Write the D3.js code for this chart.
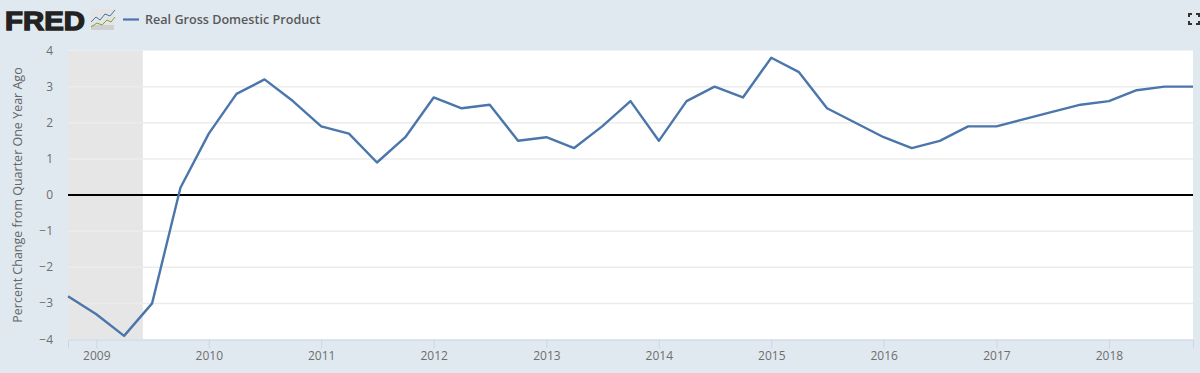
<!DOCTYPE html>
<html><head><meta charset="utf-8">
<script src="https://cdnjs.cloudflare.com/ajax/libs/d3/7.8.5/d3.min.js"></script>
<style>html,body{margin:0;padding:0;background:#e1e9f0}svg{display:block}text{font-family:"Open Sans",sans-serif}</style>
</head><body><svg id="c" width="1200" height="373"></svg>
<script>
const seriesName = "Real Gross Domestic Product";
const yTitle = "Percent Change from Quarter One Year Ago";
const startYear = 2008, startQuarter = 3;
const values = [-2.8,-3.3,-3.9,-3.0,0.2,1.7,2.8,3.2,2.6,1.9,1.7,0.9,1.6,2.7,2.4,2.5,1.5,1.6,1.3,1.9,2.6,1.5,2.6,3.0,2.7,3.8,3.4,2.4,2.0,1.6,1.3,1.5,1.9,1.9,2.1,2.3,2.5,2.6,2.9,3.0,3.0];
const yTicks = [-4,-3,-2,-1,0,1,2,3,4];
const xTickYears = [2009,2010,2011,2012,2013,2014,2015,2016,2017,2018];
const recession = [new Date(2008,9,1), new Date(2009,5,1)];
const iconBlue = [[0,13],[5,8],[9,11],[14,5],[19,7],[24,1]];
const iconGreen = [[0,18],[6,14],[11,16],[16,11],[20,13],[24,8]];

const dates = values.map((_,i)=>new Date(startYear,startQuarter*3+i*3,1));
const svg = d3.select("#c");
const x = d3.scaleTime().domain([dates[0],dates[dates.length-1]]).range([68,1193]);
const y = d3.scaleLinear().domain([-4,4]).range([339.5,50.5]);

svg.append("rect").attr("x",68).attr("y",50.5).attr("width",1125).attr("height",289).attr("fill","#fff");
svg.append("rect").attr("x",x(recession[0])).attr("y",50.5).attr("width",x(recession[1])-x(recession[0])).attr("height",289).attr("fill","#e6e6e6");

svg.append("g").selectAll("line").data(yTicks.filter(d=>d!==0&&d!==4&&d!==-4)).join("line")
 .attr("x1",68).attr("x2",1193).attr("y1",d=>y(d)).attr("y2",d=>y(d)).attr("stroke","#ececec").attr("stroke-width",1.5);

const yAxis = svg.append("g").attr("transform","translate(68,0)")
 .call(d3.axisLeft(y).tickValues(yTicks).tickSize(0).tickPadding(15).tickFormat(d3.format("d")));
yAxis.select(".domain").remove();
yAxis.selectAll("text").attr("font-size",12).attr("fill","#6e6e6e").style("font-family",'"Open Sans",sans-serif').attr("dy","0.3em");

const xAxis = svg.append("g").attr("transform","translate(0,339.5)")
 .call(d3.axisBottom(x).tickValues(xTickYears.map(v=>new Date(v,0,1))).tickSize(9).tickPadding(3).tickFormat(d3.timeFormat("%Y")));
xAxis.select(".domain").attr("stroke","#ccd6eb").attr("stroke-width",1);
xAxis.selectAll("line").attr("stroke","#ccd6eb");
xAxis.selectAll("text").attr("font-size",12).attr("fill","#6e6e6e").style("font-family",'"Open Sans",sans-serif');

svg.append("line").attr("x1",68).attr("x2",1193).attr("y1",y(0)).attr("y2",y(0)).attr("stroke","#000").attr("stroke-width",2);

svg.append("path").attr("d",d3.line().x((d,i)=>x(dates[i])).y(d=>y(d))(values))
 .attr("fill","none").attr("stroke","#4a76ab").attr("stroke-width",2.4).attr("stroke-linejoin","round");

svg.append("text").attr("transform","translate(22,195) rotate(-90)").attr("text-anchor","middle")
 .attr("font-size",12.5).attr("fill","#666").text(yTitle);

// header
svg.append("text").attr("x",5).attr("y",30).attr("font-size",26).attr("font-weight",800)
 .attr("fill","#222").style("font-family",'"Liberation Sans",sans-serif').attr("stroke","#222").attr("stroke-width",1.3).attr("textLength",80).attr("lengthAdjust","spacingAndGlyphs").text("FRED");
const ic = svg.append("g").attr("transform","translate(91,9)");
ic.append("rect").attr("width",23).attr("height",21).attr("rx",2).attr("fill","#e4e4e4");
ic.append("rect").attr("y",16).attr("width",23).attr("height",5).attr("rx",1).attr("fill","#cfcfcf");
ic.append("path").attr("d",d3.line()(iconBlue)).attr("fill","none").attr("stroke","#4572a7").attr("stroke-width",1);
ic.append("path").attr("d",d3.line()(iconGreen)).attr("fill","none").attr("stroke","#7aa33c").attr("stroke-width",1);
svg.append("line").attr("x1",123).attr("x2",139).attr("y1",19.5).attr("y2",19.5).attr("stroke","#4a76ab").attr("stroke-width",2.2);
svg.append("text").attr("x",145).attr("y",24).attr("font-size",12.6).attr("font-weight",600).attr("fill","#595959").text(seriesName);
svg.append("path").attr("d","M1189 17V14H1192M1196 14H1199V17M1189 21V24H1192M1196 24H1199V21").attr("fill","none").attr("stroke","#333").attr("stroke-width",2);
</script></body></html>
